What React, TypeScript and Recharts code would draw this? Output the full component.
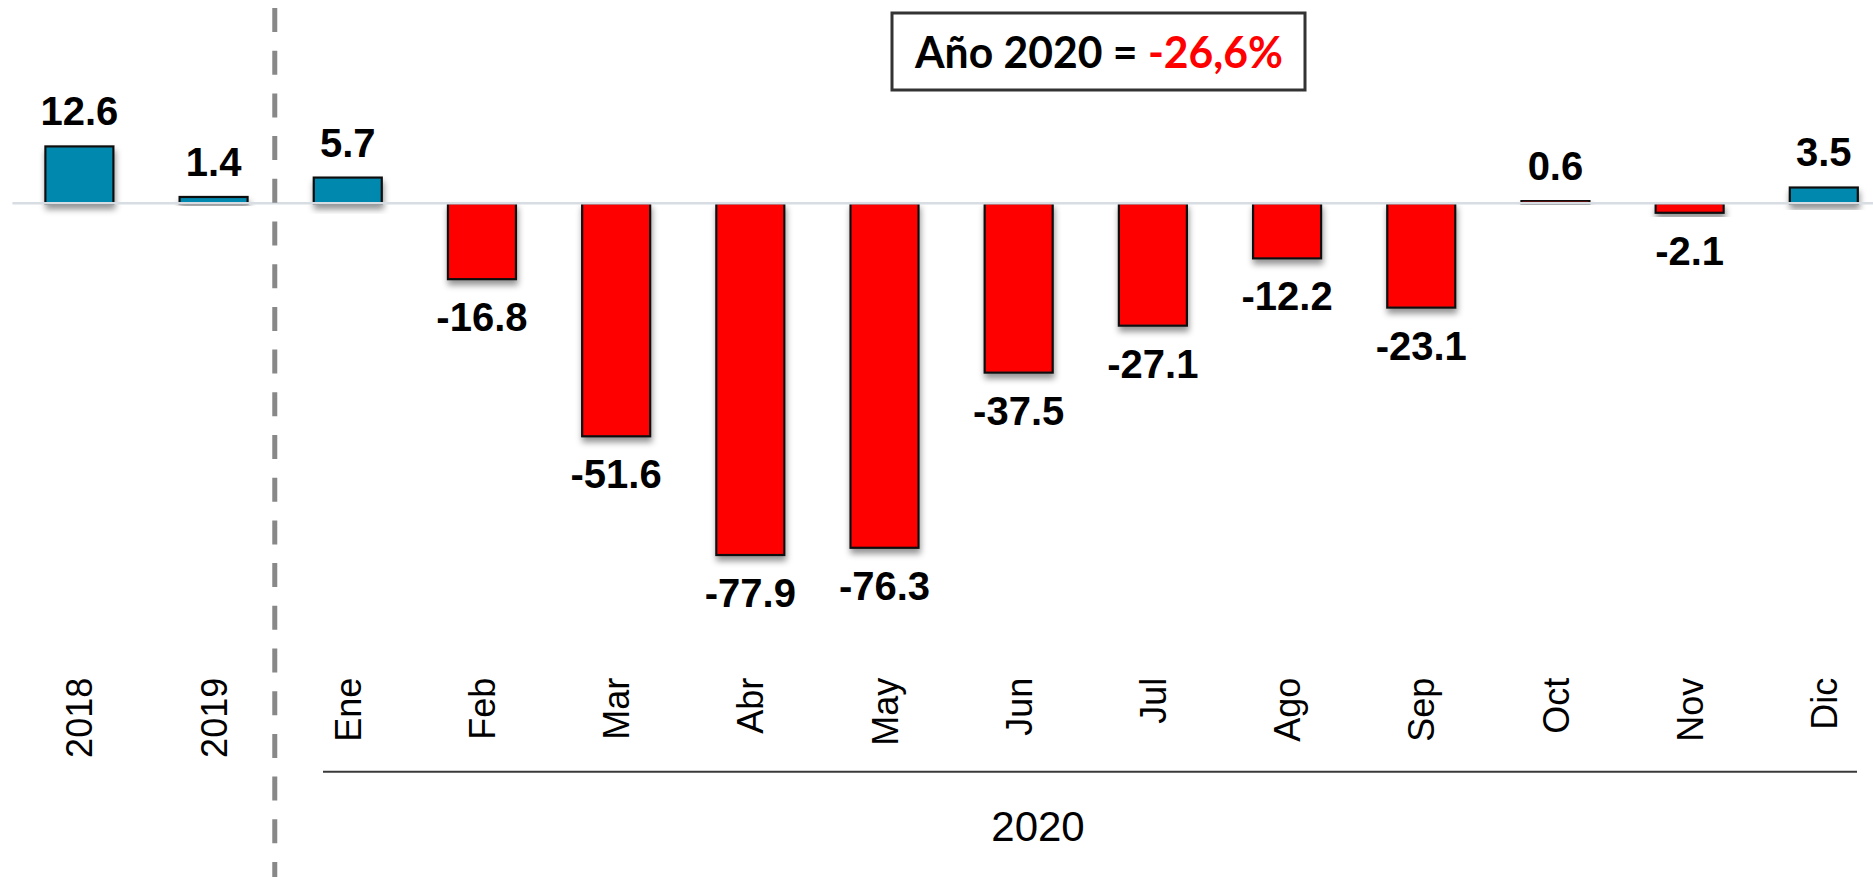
import React from "react";
import { BarChart, Bar, XAxis, YAxis, ReferenceLine, LabelList } from "recharts";

const categories = ["2018", "2019", "Ene", "Feb", "Mar", "Abr", "May", "Jun", "Jul", "Ago", "Sep", "Oct", "Nov", "Dic"];
const values = [12.6, 1.4, 5.7, -16.8, -51.6, -77.9, -76.3, -37.5, -27.1, -12.2, -23.1, 0.6, -2.1, 3.5];
const redCategories = ["Feb", "Mar", "Abr", "May", "Jun", "Jul", "Ago", "Sep", "Oct", "Nov"];
const groupLabel = "2020";
const titleBlack = "Año 2020 = ";
const titleRed = "-26,6%";

const data = categories.map((c, i) => ({ cat: c, value: values[i] }));

const BLUE = "#0088ae";
const RED = "#ff0000";
const ARIAL = "'Liberation Sans', Arial, sans-serif";

const BarShape = (props: any) => {
  const { x, y, width, height, payload } = props;
  const top = Math.min(y, y + height);
  const h = Math.abs(height);
  const fill = redCategories.includes(payload.cat) ? RED : BLUE;
  return (
    <rect
      x={x}
      y={top}
      width={width}
      height={h}
      fill={fill}
      stroke="#111"
      strokeWidth={2.2}
      filter="url(#barShadow)"
    />
  );
};

const ValueLabel = (props: any) => {
  const { x, y, width, height, value } = props;
  const top = Math.min(y, y + height);
  const bottom = Math.max(y, y + height);
  const cx = x + width / 2;
  const ty = value >= 0 ? top - 21 : bottom + 52;
  return (
    <text x={cx} y={ty} textAnchor="middle" fontFamily={ARIAL} fontWeight="bold" fontSize={40} fill="#000">
      {Number(value).toFixed(1)}
    </text>
  );
};

const Tick = (props: any) => {
  const { x, y, payload } = props;
  return (
    <text
      transform={`translate(${x},${y}) rotate(-90)`}
      textAnchor="end"
      dy="0.36em"
      fontFamily={ARIAL}
      fontSize={36}
      fill="#000"
    >
      {payload.value}
    </text>
  );
};

const DashedSep = (props: any) => {
  const { x1 } = props;
  const x = x1 - 6;
  return (
    <line x1={x} x2={x} y1={8} y2={877} stroke="#888888" strokeWidth={5} strokeDasharray="24 18.7" />
  );
};

export default function App() {
  return (
    <div style={{ position: "absolute", left: 0, top: 0, width: 1873, height: 877, overflow: "hidden", background: "#fff" }}>
      <svg width={0} height={0} style={{ position: "absolute" }}>
        <defs>
          <filter id="barShadow" x="-20%" y="-20%" width="140%" height="160%">
            <feDropShadow dx={1} dy={5} stdDeviation={3} floodColor="#000" floodOpacity={0.42} />
          </filter>
        </defs>
      </svg>
      <BarChart
        width={1891}
        height={877}
        data={data}
        margin={{ top: 22.7, right: 0, left: 12.4, bottom: 0 }}
      >
        <YAxis hide domain={[-100, 40]} />
        <XAxis
          dataKey="cat"
          height={222.2}
          axisLine={false}
          tickLine={false}
          tickSize={0}
          tickMargin={23}
          interval={0}
          tick={<Tick />}
        />
        <ReferenceLine y={0} stroke="#d8dde3" strokeWidth={2.5} />
        <ReferenceLine x="Ene" position="start" shape={<DashedSep />} />
        <Bar dataKey="value" barSize={68} isAnimationActive={false} shape={<BarShape />}>
          <LabelList dataKey="value" content={<ValueLabel />} />
        </Bar>
      </BarChart>
      <svg width={1873} height={877} style={{ position: "absolute", left: 0, top: 0, pointerEvents: "none" }}>
        <line x1={323} x2={1857} y1={771.7} y2={771.7} stroke="#3a3a3a" strokeWidth={2} />
        <text x={1038} y={840.7} textAnchor="middle" fontFamily={ARIAL} fontSize={42} fill="#000">
          {groupLabel}
        </text>
        <rect x={892} y={13} width={413} height={77} fill="#fff" stroke="#333" strokeWidth={3} />
        <text
          x={1099}
          y={68.3}
          textAnchor="middle"
          fontFamily="Lato, 'Open Sans', sans-serif"
          fontWeight="bold"
          fontSize={44}
          textLength={368}
          lengthAdjust="spacingAndGlyphs"
        >
          <tspan fill="#000">{titleBlack}</tspan>
          <tspan fill={RED}>{titleRed}</tspan>
        </text>
      </svg>
    </div>
  );
}
